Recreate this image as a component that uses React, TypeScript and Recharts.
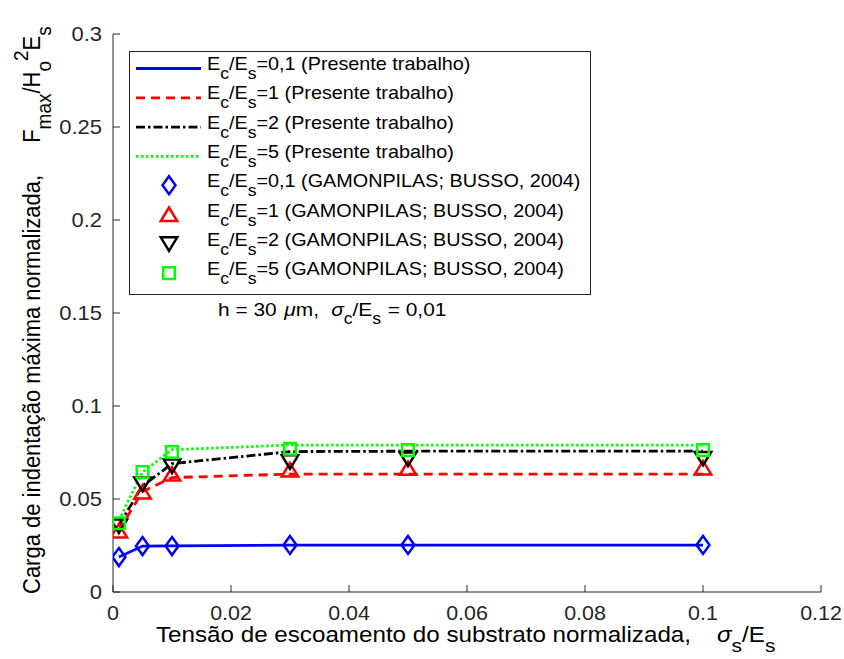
import { ComposedChart, Line, XAxis, YAxis, Legend, Label } from "recharts";

// sigma_s / E_s values where the curves were sampled
const sigmaRatio = [0.001, 0.005, 0.01, 0.03, 0.05, 0.1];

// Presente trabalho (lines)
const present01 = [0.0188, 0.0247, 0.0248, 0.0252, 0.0252, 0.0252];
const present1 = [0.033, 0.054, 0.0615, 0.0634, 0.0634, 0.0634];
const present2 = [0.036, 0.057, 0.069, 0.0755, 0.0757, 0.0757];
const present5 = [0.0385, 0.0645, 0.0765, 0.079, 0.079, 0.079];

// Gamonpilas & Busso, 2004 (markers)
const gamon01 = [0.0188, 0.0247, 0.0247, 0.0253, 0.0253, 0.0253];
const gamon1 = [0.0328, 0.0538, 0.0634, 0.0656, 0.0665, 0.0667];
const gamon2 = [0.0355, 0.058, 0.0677, 0.07, 0.0715, 0.0718];
const gamon5 = [0.037, 0.0645, 0.0753, 0.077, 0.0763, 0.0763];

const xTicks = [0, 0.02, 0.04, 0.06, 0.08, 0.1, 0.12];
const yTicks = [0, 0.05, 0.1, 0.15, 0.2, 0.25, 0.3];
const ratioLabels = ["0,1", "1", "2", "5"];

const data = sigmaRatio.map((x, i) => ({
  x,
  p01: present01[i],
  p1: present1[i],
  p2: present2[i],
  p5: present5[i],
  g01: gamon01[i],
  g1: gamon1[i],
  g2: gamon2[i],
  g5: gamon5[i],
}));

const FONT = '"Liberation Sans", Arial, Helvetica, sans-serif';
const AXIS = "#262626";
const SX = 1.1;
const BLUE = "#0000ff";
const RED = "#ff0000";
const BLACK = "#000000";
const GREEN = "#00ff00";

const lineStyles = [
  { key: "p01", color: BLUE, dash: undefined },
  { key: "p1", color: RED, dash: "9 6" },
  { key: "p2", color: BLACK, dash: "9 3 2.5 3" },
  { key: "p5", color: GREEN, dash: "2.5 2.5" },
];

type Shape = "diamond" | "up" | "down" | "square";
const markerStyles: { key: string; color: string; shape: Shape }[] = [
  { key: "g01", color: BLUE, shape: "diamond" },
  { key: "g1", color: RED, shape: "up" },
  { key: "g2", color: BLACK, shape: "down" },
  { key: "g5", color: GREEN, shape: "square" },
];

function markerPath(shape: Shape, cx: number, cy: number) {
  switch (shape) {
    case "diamond":
      return `M${cx},${cy - 9}L${cx + 6.5},${cy}L${cx},${cy + 9}L${cx - 6.5},${cy}Z`;
    case "up":
      return `M${cx},${cy - 7}L${cx + 8.2},${cy + 6.5}L${cx - 8.2},${cy + 6.5}Z`;
    case "down":
      return `M${cx},${cy + 7}L${cx + 8.2},${cy - 6.5}L${cx - 8.2},${cy - 6.5}Z`;
    default:
      return `M${cx - 5.8},${cy - 5.8}H${cx + 5.8}V${cy + 5.8}H${cx - 5.8}Z`;
  }
}

const makeDot = (shape: Shape, color: string) => (props: any) => {
  const { cx, cy, index } = props;
  if (cx == null || cy == null) return <g key={index} />;
  return (
    <path
      key={index}
      d={markerPath(shape, cx, cy)}
      fill="none"
      stroke={color}
      strokeWidth={2.5}
    />
  );
};

const YTick = (props: any) => {
  const { x, y, payload } = props;
  return (
    <g>
      <line x1={x} x2={x + 7} y1={y} y2={y} stroke={AXIS} />
      <text
        transform={`translate(${x - 11},${y}) scale(${SX},1)`}
        textAnchor="end"
        dy="0.36em"
        fontSize={20}
        fontFamily={FONT}
        fill={AXIS}
      >
        {payload.value}
      </text>
    </g>
  );
};

const XTick = (props: any) => {
  const { x, y, payload } = props;
  return (
    <g>
      <line x1={x} x2={x} y1={y} y2={y - 7} stroke={AXIS} />
      <text
        transform={`translate(${x},${y + 28}) scale(${SX},1)`}
        textAnchor="middle"
        fontSize={19.5}
        fontFamily={FONT}
        fill={AXIS}
      >
        {payload.value}
      </text>
    </g>
  );
};

const XTitle = () => (
  <g fontFamily={FONT} fill="#000">
    <text transform={`translate(156,642) scale(${SX},1)`} fontSize={22}>
      Tensão de escoamento do substrato normalizada,
    </text>
    <text transform={`translate(717,642) scale(${SX},1)`} fontSize={22}>
      <tspan fontStyle="italic">σ</tspan>
      <tspan fontSize={19} dy={10}>s</tspan>
      <tspan dy={-10}>/E</tspan>
      <tspan fontSize={19} dy={10}>s</tspan>
    </text>
  </g>
);

const YTitle = () => (
  <text
    transform={`translate(40,594) scale(${SX},1) rotate(-90)`}
    fontSize={22}
    fontFamily={FONT}
    fill="#000"
  >
    Carga de indentação máxima normalizada,
    <tspan dx={32}>F</tspan>
    <tspan fontSize={19} dy={10}>max</tspan>
    <tspan dy={-10}>/H</tspan>
    <tspan fontSize={19} dy={10}>o</tspan>
    <tspan fontSize={19} dy={-21}>2</tspan>
    <tspan dy={11}>E</tspan>
    <tspan fontSize={19} dy={10}>s</tspan>
  </text>
);

const legendRows = [
  ...lineStyles.map((l, i) => ({ type: "line" as const, ...l, ratio: ratioLabels[i], src: "Presente trabalho" })),
  ...markerStyles.map((m, i) => ({ type: "marker" as const, ...m, ratio: ratioLabels[i], src: "GAMONPILAS; BUSSO, 2004" })),
];

const LegendBox = () => (
  <svg width={844} height={659} style={{ display: "block" }}>
    <rect x={129.5} y={51.5} width={461} height={243} fill="#fff" stroke={AXIS} />
    {legendRows.map((r, i) => {
      const yb = 70 + i * 29.3;
      return (
        <g key={i}>
          {r.type === "line" ? (
            <line
              x1={136}
              x2={201}
              y1={yb - 1.5}
              y2={yb - 1.5}
              stroke={r.color}
              strokeWidth={2.8}
              strokeDasharray={(r as any).dash}
            />
          ) : (
            <path
              d={markerPath((r as any).shape, 169, yb - 2)}
              fill="none"
              stroke={r.color}
              strokeWidth={2.5}
            />
          )}
          <text
            transform={`translate(207,${yb}) scale(${SX},1)`}
            fontSize={18}
            fontFamily={FONT}
            fill="#000"
          >
            E
            <tspan fontSize={16} dy={9}>c</tspan>
            <tspan dy={-9}>/E</tspan>
            <tspan fontSize={16} dy={9}>s</tspan>
            <tspan dy={-9}>={r.ratio} ({r.src})</tspan>
          </text>
        </g>
      );
    })}
    <text
      transform={`translate(218,316) scale(${SX},1)`}
      fontSize={19}
      fontFamily={FONT}
      fill="#000"
    >
      h = 30
      <tspan dx={7} fontStyle="italic">μ</tspan>
      <tspan>m,</tspan>
      <tspan dx={11} fontStyle="italic">σ</tspan>
      <tspan fontSize={16} dy={8}>c</tspan>
      <tspan dy={-8}>/E</tspan>
      <tspan fontSize={16} dy={8}>s</tspan>
      <tspan dy={-8} dx={6}>= 0,01</tspan>
    </text>
  </svg>
);

export default function App() {
  return (
    <div style={{ position: "absolute", left: 0, top: 0, background: "#fff" }}>
      <ComposedChart
        width={844}
        height={659}
        data={data}
        margin={{ top: 34, right: 23, left: 53, bottom: 37 }}
      >
        <XAxis
          dataKey="x"
          type="number"
          domain={[0, 0.12]}
          ticks={xTicks}
          interval={0}
          height={30}
          tickSize={0}
          tickMargin={0}
          tickLine={false}
          axisLine={{ stroke: AXIS }}
          tick={<XTick />}
          allowDataOverflow
        >
          <Label content={<XTitle />} />
        </XAxis>
        <YAxis
          type="number"
          domain={[0, 0.3]}
          ticks={yTicks}
          interval={0}
          width={60}
          tickSize={0}
          tickMargin={0}
          tickLine={false}
          axisLine={{ stroke: AXIS }}
          tick={<YTick />}
          allowDataOverflow
        >
          <Label content={<YTitle />} />
        </YAxis>
        {lineStyles.map((l) => (
          <Line
            key={l.key}
            dataKey={l.key}
            type="linear"
            stroke={l.color}
            strokeWidth={2.8}
            strokeDasharray={l.dash}
            dot={false}
            activeDot={false}
            isAnimationActive={false}
          />
        ))}
        {markerStyles.map((m) => (
          <Line
            key={m.key}
            dataKey={m.key}
            type="linear"
            stroke="none"
            dot={makeDot(m.shape, m.color)}
            activeDot={false}
            isAnimationActive={false}
          />
        ))}
        <Legend
          layout="vertical"
          align="center"
          verticalAlign="middle"
          wrapperStyle={{ left: 0, top: 0, width: 844, height: 659, pointerEvents: "none" }}
          content={() => <LegendBox />}
        />
      </ComposedChart>
    </div>
  );
}
